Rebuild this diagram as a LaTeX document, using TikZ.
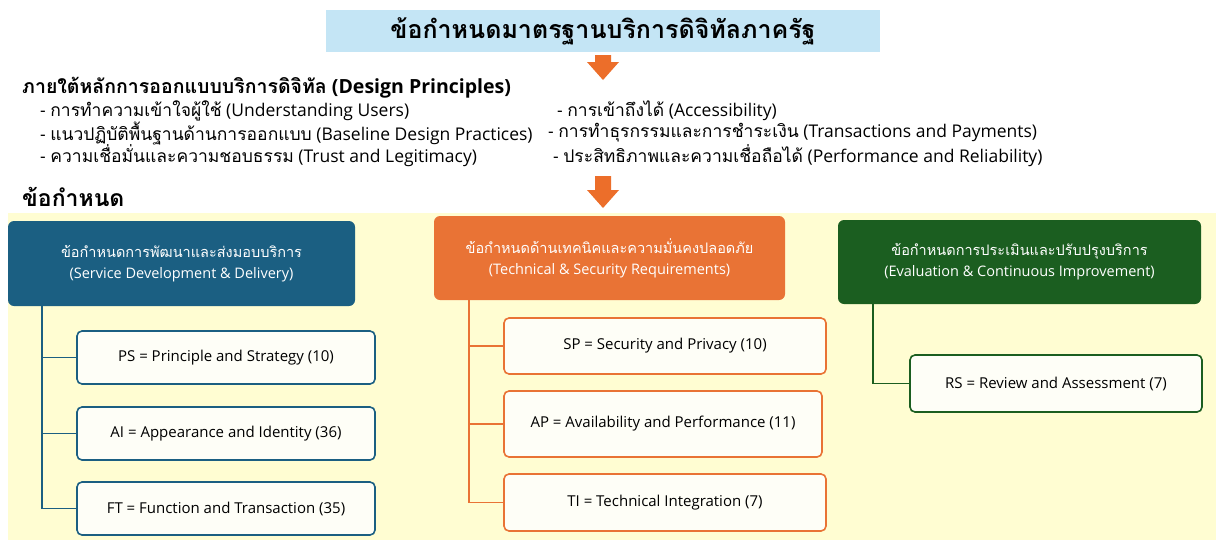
\documentclass[tikz,border=0pt]{standalone}
\usepackage{fontspec}
\setmainfont{Open Sans}
\newfontfamily\thai[Script=Thai]{Loma}
\usetikzlibrary{positioning}
\definecolor{titleblue}{HTML}{C4E5F5}
\definecolor{arroworange}{HTML}{EC6E2A}
\definecolor{hblue}{HTML}{1B5F82}
\definecolor{horange}{HTML}{E97335}
\definecolor{hgreen}{HTML}{1B5E20}
\definecolor{bgyellow}{HTML}{FFFDD2}
\definecolor{childfill}{HTML}{FEFEF7}
\tikzset{
  hdr/.style={rounded corners=6pt, align=center, text=white, font=\fontsize{14.5}{21}\selectfont, inner sep=0pt},
  child/.style={draw=#1, line width=1.6pt, rounded corners=5pt, fill=childfill, font=\fontsize{15}{17}\selectfont, inner sep=0pt},
  tree/.style={draw=#1, line width=1.6pt},
  bigarrow/.style={fill=arroworange, draw=none},
  txt/.style={anchor=west, inner sep=0pt, font=\fontsize{17.5}{19}\selectfont}
}
\begin{document}
\begin{tikzpicture}[x=1pt,y=-1pt]
\useasboundingbox (0,0) rectangle (1216,541);
\fill[white] (0,0) rectangle (1216,541);
% title
\node[fill=titleblue, minimum width=554pt, minimum height=42pt, inner sep=0pt, font=\fontsize{25}{27}\selectfont\bfseries] (title) at (603,31) {\thai ข้อกำหนดมาตรฐานบริการดิจิทัลภาครัฐ};
% arrow 1
\fill[bigarrow] (595,55) -- (611,55) -- (611,62) -- (619,62) -- (603,80) -- (587,62) -- (595,62) -- cycle;
% design principles
\node[txt, font=\fontsize{19.5}{21}\selectfont\bfseries] (dp) at (22,88) {{\thai ภายใต้หลักการออกแบบบริการดิจิทัล} (Design Principles)};
\node[txt] (l1) at (40,111) {- {\thai การทำความเข้าใจผู้ใช้} (Understanding Users)};
\node[txt] (l2) at (40,133) {- {\thai แนวปฏิบัติพื้นฐานด้านการออกแบบ} (Baseline Design Practices)};
\node[txt] (l3) at (40,156) {- {\thai ความเชื่อมั่นและความชอบธรรม} (Trust and Legitimacy)};
\node[txt] (r1) at (557,111) {- {\thai การเข้าถึงได้} (Accessibility)};
\node[txt] (r2) at (548,133) {- {\thai การทำธุรกรรมและการชำระเงิน} (Transactions and Payments)};
\node[txt] (r3) at (553,156) {- {\thai ประสิทธิภาพและความเชื่อถือได้} (Performance and Reliability)};
% arrow 2
\fill[bigarrow] (595,176) -- (611,176) -- (611,190) -- (619,190) -- (603,208) -- (587,190) -- (595,190) -- cycle;
\node[txt, font=\fontsize{23}{25}\selectfont\bfseries] (req) at (22,197) {\thai ข้อกำหนด};
% background
\fill[bgyellow] (8,213) rectangle (1216,540);
% headers
\node[hdr, fill=hblue, minimum width=347pt, minimum height=85pt] (hb) at (181.5,263.5) {{\thai ข้อกำหนดการพัฒนาและส่งมอบบริการ}\\(Service Development \& Delivery)};
\node[hdr, fill=horange, minimum width=351pt, minimum height=84pt] (ho) at (609.5,258) {{\thai ข้อกำหนดด้านเทคนิคและความมั่นคงปลอดภัย}\\(Technical \& Security Requirements)};
\node[hdr, fill=hgreen, minimum width=363pt, minimum height=84pt] (hg) at (1019.5,262) {{\thai ข้อกำหนดการประเมินและปรับปรุงบริการ}\\(Evaluation \& Continuous Improvement)};
% blue children
\node[child=hblue, minimum width=298pt, minimum height=53pt] (ps) at (226,357.5) {PS = Principle and Strategy (10)};
\node[child=hblue, minimum width=298pt, minimum height=53pt] (ai) at (226,433.5) {AI = Appearance and Identity (36)};
\node[child=hblue, minimum width=298pt, minimum height=53pt] (ft) at (226,508.5) {FT = Function and Transaction (35)};
\coordinate (bt) at (42,306);
\draw[tree=hblue] (bt) |- (ft.west);
\draw[tree=hblue] (bt |- ps.west) -- (ps.west);
\draw[tree=hblue] (bt |- ai.west) -- (ai.west);
% orange children
\node[child=horange, minimum width=322pt, minimum height=56pt] (sp) at (665,346) {SP = Security and Privacy (10)};
\node[child=horange, minimum width=318pt, minimum height=66pt] (ap) at (663,424) {AP = Availability and Performance (11)};
\node[child=horange, minimum width=322pt, minimum height=57pt] (ti) at (665,502.5) {TI = Technical Integration (7)};
\coordinate (ot) at (469,300);
\draw[tree=horange] (ot) |- (ti.west);
\draw[tree=horange] (ot |- sp.west) -- (sp.west);
\draw[tree=horange] (ot |- ap.west) -- (ap.west);
% green child
\node[child=hgreen, minimum width=292pt, minimum height=57pt] (rs) at (1056,383.5) {RS = Review and Assessment (7)};
\coordinate (gt) at (873,304);
\draw[tree=hgreen] (gt) |- (rs.west);
\end{tikzpicture}
\end{document}
